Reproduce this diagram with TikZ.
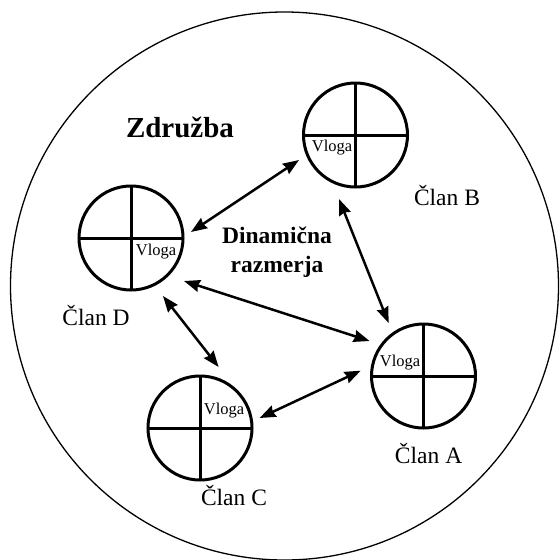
\documentclass[tikz,border=0pt]{standalone}
\usepackage{fontspec}
\setmainfont{Liberation Serif}
\usetikzlibrary{arrows.meta}
\begin{document}
\begin{tikzpicture}[x=1pt,y=-1pt,
  member/.style={circle,draw,line width=3pt,minimum size=104pt,inner sep=0pt,outer sep=0pt},
  quad/.style={line width=3pt},
  role/.style={font=\fontsize{16.5}{18}\selectfont,inner sep=0pt},
  clan/.style={font=\fontsize{23.5}{26}\selectfont,inner sep=0pt},
  link/.style={line width=2.5pt,{Stealth[length=16pt,width=12pt,inset=1.5pt]}-{Stealth[length=16pt,width=12pt,inset=1.5pt]}}]
\useasboundingbox (0,0) rectangle (560,560);
\node[circle,draw,line width=1.3pt,minimum size=548pt,inner sep=0pt] (assoc) at (284.5,286) {};
\node[font=\bfseries\fontsize{29}{32}\selectfont,inner sep=0pt] (zd) at (180,127) {Združba};
\node[font=\bfseries\fontsize{23.5}{28.5}\selectfont,align=center,inner sep=0pt] (dyn) at (277,252) {Dinamična\\razmerja};
% members
\foreach \n/\x/\y in {B/355.5/135, D/131/238, C/200/428, A/423.5/376}{
  \node[member] (\n) at (\x,\y) {};
  \draw[quad] (\n.west) -- (\n.east);
  \draw[quad] (\n.north) -- (\n.south);
}
\node[role] (vB) at (332,148) {Vloga};
\node[role] (vD) at (156,252) {Vloga};
\node[role] (vC) at (224,411) {Vloga};
\node[role] (vA) at (400,362.5) {Vloga};
\node[clan] (lB) at (447,196) {Član B};
\node[clan] (lD) at (96,316) {Član D};
\node[clan] (lC) at (234,496) {Član C};
\node[clan] (lA) at (428.6,454) {Član A};
% arrow end points
\coordinate (DB1) at (191,232);
\coordinate (DB2) at (299,160);
\coordinate (BA1) at (339,199);
\coordinate (BA2) at (388.6,323);
\coordinate (DA1) at (184,281);
\coordinate (DA2) at (369.6,341);
\coordinate (DC1) at (163,296);
\coordinate (DC2) at (218.6,367);
\coordinate (CA1) at (259.6,418);
\coordinate (CA2) at (360.7,370.7);
\draw[link] (DB1) -- (DB2);
\draw[link] (BA1) -- (BA2);
\draw[link] (DA1) -- (DA2);
\draw[link] (DC1) -- (DC2);
\draw[link] (CA1) -- (CA2);
\end{tikzpicture}
\end{document}
